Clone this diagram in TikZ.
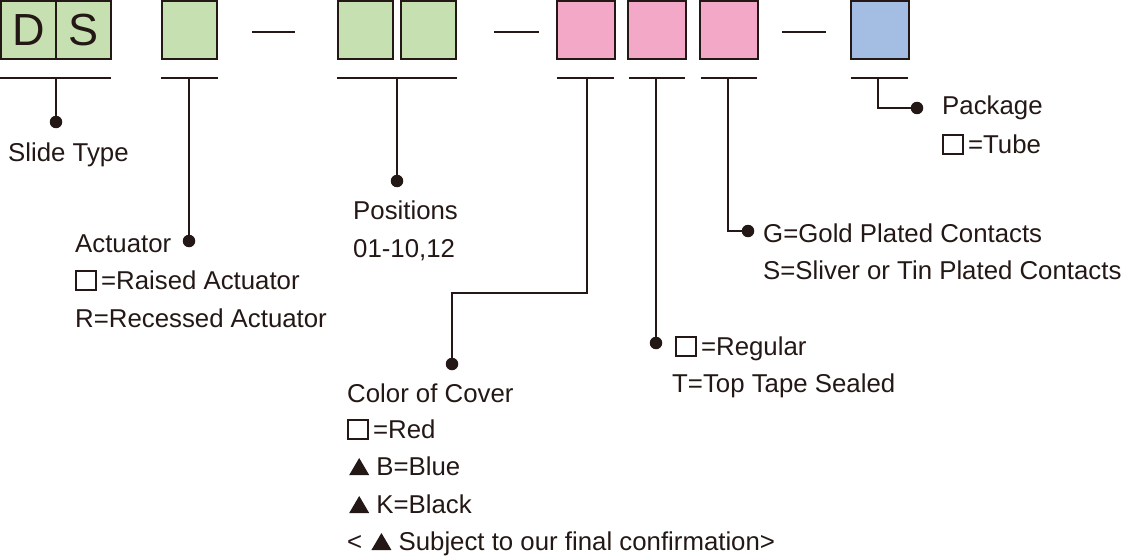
\documentclass[tikz,border=0pt]{standalone}
\usepackage{fontspec}
\setmainfont{Liberation Sans}
\definecolor{ink}{HTML}{231815}
\definecolor{boxgreen}{HTML}{C6E0B2}
\definecolor{boxpink}{HTML}{F3A8C8}
\definecolor{boxblue}{HTML}{A3BEE2}
\newcommand{\sqbox}{{\fboxsep=0pt\fboxrule=1.7pt\color{ink}\fbox{\rule{0pt}{17.5pt}\hspace{18.5pt}}}\hspace{4pt}}
\newcommand{\tri}{\hspace{2pt}\tikz[baseline=0pt]\fill[ink] (0pt,0pt) -- (20pt,0pt) -- (10pt,17pt) -- cycle;}
\begin{document}
\begin{tikzpicture}[x=1pt,y=-1pt,
  cell/.style={draw=ink,line width=2pt,minimum height=58pt,inner sep=0pt},
  gcell/.style={cell,fill=boxgreen,minimum width=55pt},
  pcell/.style={cell,fill=boxpink,minimum width=58pt},
  bcell/.style={cell,fill=boxblue,minimum width=58pt},
  rule/.style={draw=ink,line width=2pt},
  conn/.style={draw=ink,line width=2pt},
  dot/.style={circle,fill=ink,inner sep=0pt,minimum size=12.5pt},
  lbl/.style={anchor=base west,inner sep=0pt,text=ink,font=\fontsize{25.8}{30}\selectfont},
  big/.style={text=ink,font=\fontsize{45}{45}\selectfont}]
\useasboundingbox (0,0) rectangle (1126,559);
% boxes
\node[gcell] (bD) at (28.5,30) {};
\node[gcell] (bS) at (83.5,30) {};
\node[big] at (bD) {D};
\node[big] at (bS) {S};
\node[gcell] (bA) at (189.5,30) {};
\node[gcell] (bP1) at (365.5,30) {};
\node[gcell] (bP2) at (428.5,30) {};
\node[pcell] (bC) at (586,30) {};
\node[pcell] (bR) at (656.5,30) {};
\node[pcell] (bG) at (729,30) {};
\node[bcell] (bK) at (880,30) {};
% dashes
\coordinate (d1a) at (252,32); \coordinate (d1b) at (295,32);
\coordinate (d2a) at (494,32); \coordinate (d2b) at (539,32);
\coordinate (d3a) at (782,32); \coordinate (d3b) at (826,32);
\draw[rule] (d1a) -- (d1b);
\draw[rule] (d2a) -- (d2b);
\draw[rule] (d3a) -- (d3b);
% underlines
\draw[rule] (0,78) -- (111,78);
\draw[rule] (161,78) -- (218,78);
\draw[rule] (337,78) -- (457,78);
\draw[rule] (557,78) -- (614,78);
\draw[rule] (629,78) -- (685,78);
\draw[rule] (701,78) -- (757,78);
\draw[rule] (851,78) -- (908,78);
\coordinate (uDS) at (56,78);
\coordinate (uA) at (189,78);
\coordinate (uP) at (397,78);
\coordinate (uC) at (587,78);
\coordinate (uR) at (656,78);
\coordinate (uG) at (728,78);
\coordinate (uK) at (878,78);
% dots
\node[dot] (tDS) at (56,122) {};
\node[dot] (tA) at (189,241) {};
\node[dot] (tP) at (397,181) {};
\node[dot] (tC) at (452,364) {};
\node[dot] (tR) at (656,343) {};
\node[dot] (tG) at (748,231) {};
\node[dot] (tK) at (917,108) {};
% connectors
\draw[conn] (uDS) -- (tDS.center);
\draw[conn] (uA) -- (tA.center);
\draw[conn] (uP) -- (tP.center);
\draw[conn] (uC) |- (520,293) -| (tC.center);
\draw[conn] (uR) -- (tR.center);
\draw[conn] (uG) |- (tG.center);
\draw[conn] (uK) |- (tK.center);
% labels
\node[lbl] (l1) at (8,161) {Slide Type};
\node[lbl] (l2) at (75,252) {Actuator};
\node[lbl] (l3) at (75,289) {\sqbox=Raised Actuator};
\node[lbl] (l4) at (75,327) {R=Recessed Actuator};
\node[lbl] (l5) at (353,219) {Positions};
\node[lbl] (l6) at (353,257) {01-10,12};
\node[lbl] (l7) at (347,402) {Color of Cover};
\node[lbl] (l8) at (347,438) {\sqbox=Red};
\node[lbl] (l9) at (347,475) {\tri\ B=Blue};
\node[lbl] (l10) at (347,513) {\tri\ K=Black};
\node[lbl] (l11) at (347,550) {< \tri\ Subject to our final confirmation>};
\node[lbl] (l12) at (675,355) {\sqbox=Regular};
\node[lbl] (l13) at (672,392) {T=Top Tape Sealed};
\node[lbl] (l14) at (763,242) {G=Gold Plated Contacts};
\node[lbl] (l15) at (763,279) {S=Sliver or Tin Plated Contacts};
\node[lbl] (l16) at (942,115) {Package};
\node[lbl] (l17) at (942,153) {\sqbox=Tube};
\end{tikzpicture}
\end{document}
